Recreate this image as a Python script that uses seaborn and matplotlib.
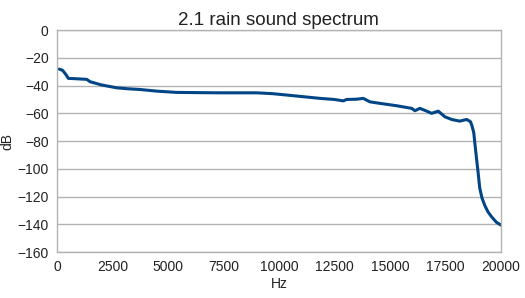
import matplotlib
matplotlib.use('Agg')
import matplotlib.pyplot as plt
import seaborn as sns
import pandas as pd

#-------------------------------------------------
hz=[100, 250, 400, 510, 800, 1340, 1490, 2000, 2690, 3200, 3740, 4500, 5390,
    6500, 7340, 8090, 9000, 9700, 10350, 11100, 11850, 12500, 12900, 13050, 13500,
    13800, 14100, 14550, 15300, 15980, 16130, 16350, 16600, 16880, 17180, 17480,
    17800, 18150, 18460, 18630, 18700, 18780, 18830, 18900, 18980, 19050, 19150,
    19280, 19420, 19580, 19800, 20000]
db=[-28.1, -29, -32, -34.8, -35, -35.5, -37.2, -39.5, -41.6, -42.3, -42.8, -44, -44.9,
    -45.1, -45.2, -45.2, -45.2, -45.8, -46.8, -48, -49.2, -50, -51, -50, -49.8,
    -49.2, -51.7, -52.8, -54.5, -56.4, -58.1, -56.4, -58, -60, -58.4, -62.5,
    -64.5, -65.6, -64.4, -66, -69, -74, -81.7, -92, -103.3, -114, -121,
    -126.5, -131, -134.5, -138.5, -140.5]

df=pd.DataFrame({'Hz': hz, 'dB': db})

#-------------------------------------------------
sns.set_style('white')
plt.rcParams['font.family']=['Liberation Sans', 'DejaVu Sans']
txt='#222222'

fig=plt.figure(figsize=(5.25, 2.98), dpi=100)
ax=fig.add_axes([0.1086, 0.154, 0.8454, 0.745])
sns.lineplot(x='Hz', y='dB', data=df, ax=ax, color='#004586', linewidth=2.2)

ax.set_xlim(0, 20000)
ax.set_ylim(-160, 0)
ax.set_xticks(range(0, 20001, 2500))
ax.set_yticks(range(-160, 1, 20))
ax.grid(axis='y', color='#b3b3b3', linewidth=1)
for s in ax.spines.values():
    s.set_color('#b3b3b3')
    s.set_linewidth(1)
ax.tick_params(axis='both', length=4, width=1, color='#b3b3b3', labelsize=10, pad=2, labelcolor=txt)
ax.set_title('2.1 rain sound spectrum', fontsize=13.5, pad=4, color=txt)
ax.set_xlabel('Hz', fontsize=10, labelpad=2, color=txt)
ax.set_ylabel('dB', fontsize=10, labelpad=2, color=txt)

plt.savefig('out.png', dpi=100)
plt.close()
